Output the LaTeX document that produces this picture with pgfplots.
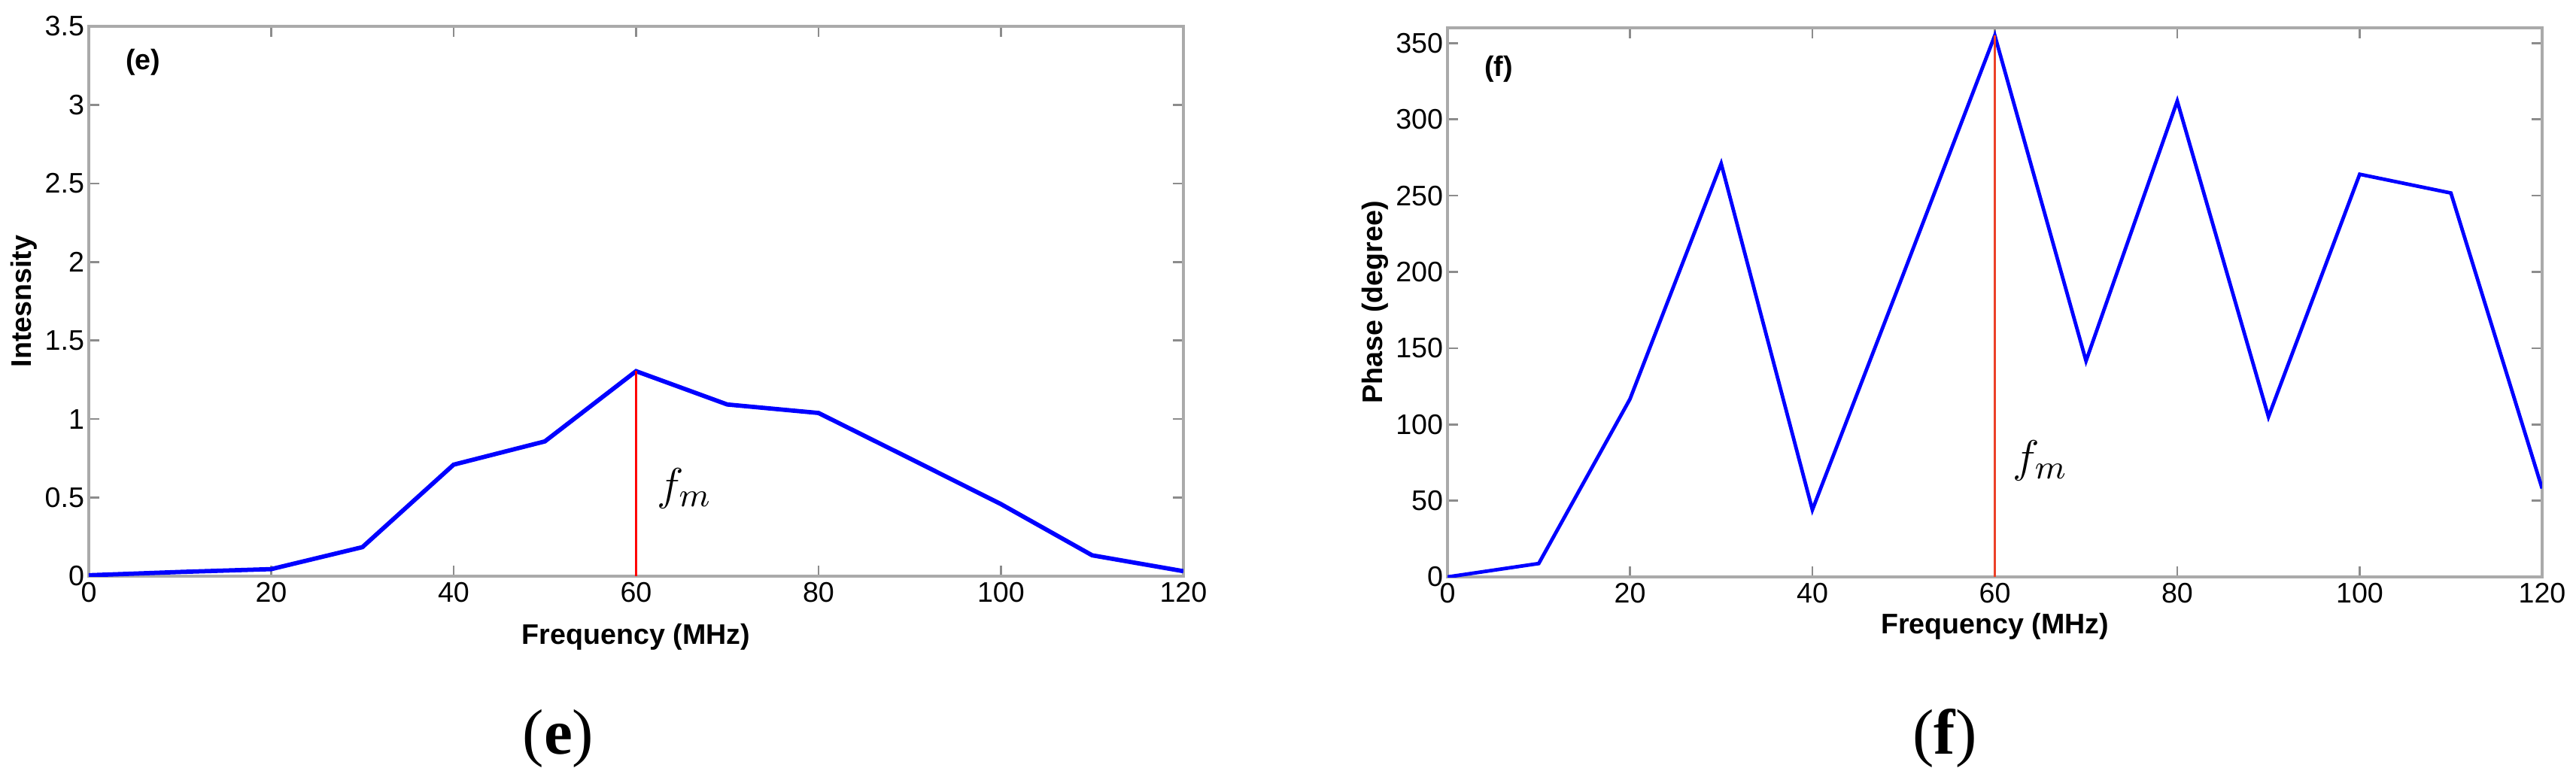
\documentclass[border=0pt]{standalone}
\usepackage{pgfplots}
\pgfplotsset{compat=1.18}
\usepackage{fontspec}
\setmainfont{Liberation Serif}
\setsansfont{Liberation Sans}
\definecolor{axgray}{RGB}{170,170,170}
\definecolor{tkgray}{RGB}{140,140,140}
\definecolor{fmred}{RGB}{235,65,40}
\begin{document}
\begin{tikzpicture}
\path[use as bounding box] (0,0) rectangle (24cm,7.2405cm);
\pgfplotsset{myax/.style={
  scale only axis, anchor=south west,
  width=10.198cm,
  xmin=0, xmax=120, xtick={0,20,...,120},
  axis line style={draw=axgray, line width=0.7pt},
  every tick/.style={draw=tkgray, line width=0.5pt},
  major tick length=0.1cm,
  tick align=inside,
  tick label style={font=\fontsize{7.5}{8}\sffamily, text=black},
  /pgf/number format/assume math mode=true,
  yticklabel style={inner xsep=1pt},
  xticklabel style={inner ysep=1.5pt},
  label style={font=\fontsize{7.5}{8}\sffamily\bfseries},
}}
\begin{axis}[myax, at={(0.827cm,1.871cm)}, height=5.124cm,
  ymin=0, ymax=3.5, ytick={0,0.5,...,3.5},
  xlabel={Frequency (MHz)}, ylabel={Intesnsity},
  xlabel style={at={(axis description cs:0.5,-0.111)}, anchor=center},
  ylabel style={at={(axis description cs:-0.059,0.5)}, anchor=center},
]
\addplot[blue, line width=1.15pt] coordinates {
(0,0.006) (10,0.027) (20,0.045) (30,0.185) (40,0.71) (50,0.858) (60,1.305)
(70,1.093) (80,1.039) (90,0.75) (100,0.459) (110,0.133) (120,0.032)};
\addplot[red, line width=0.6pt] coordinates {(60,0) (60,1.305)};
\node[anchor=west, font=\fontsize{7.5}{8}\sffamily\bfseries] at (axis cs:2.6,3.27) {(e)};
\node[font=\fontsize{13}{14}\selectfont] at (axis cs:65.3,0.56) {$f_m$};
\end{axis}
\begin{axis}[myax, at={(13.486cm,1.864cm)}, height=5.117cm,
  ymin=0, ymax=360, ytick={0,50,...,350},
  xlabel={Frequency (MHz)}, ylabel={Phase (degree)},
  xlabel style={at={(axis description cs:0.5,-0.090)}, anchor=center},
  ylabel style={at={(axis description cs:-0.066,0.5)}, anchor=center},
]
\addplot[blue, line width=0.95pt] coordinates {
(0,0) (10,8.8) (20,116.6) (30,271) (40,44) (50,199) (60,355)
(70,141.6) (80,312) (90,105) (100,264) (110,251.7) (120,58)};
\addplot[fmred, line width=0.7pt] coordinates {(60,0) (60,355)};
\node[anchor=west, font=\fontsize{7.5}{8}\sffamily\bfseries] at (axis cs:2.6,333) {(f)};
\node[font=\fontsize{13}{14}\selectfont] at (axis cs:65,76) {$f_m$};
\end{axis}
\node[font=\fontsize{17}{20}\selectfont] at (5.201cm,0.357cm) {(\textbf{e})};
\node[font=\fontsize{17}{20}\selectfont] at (18.119cm,0.357cm) {(\textbf{f})};
\end{tikzpicture}
\end{document}
